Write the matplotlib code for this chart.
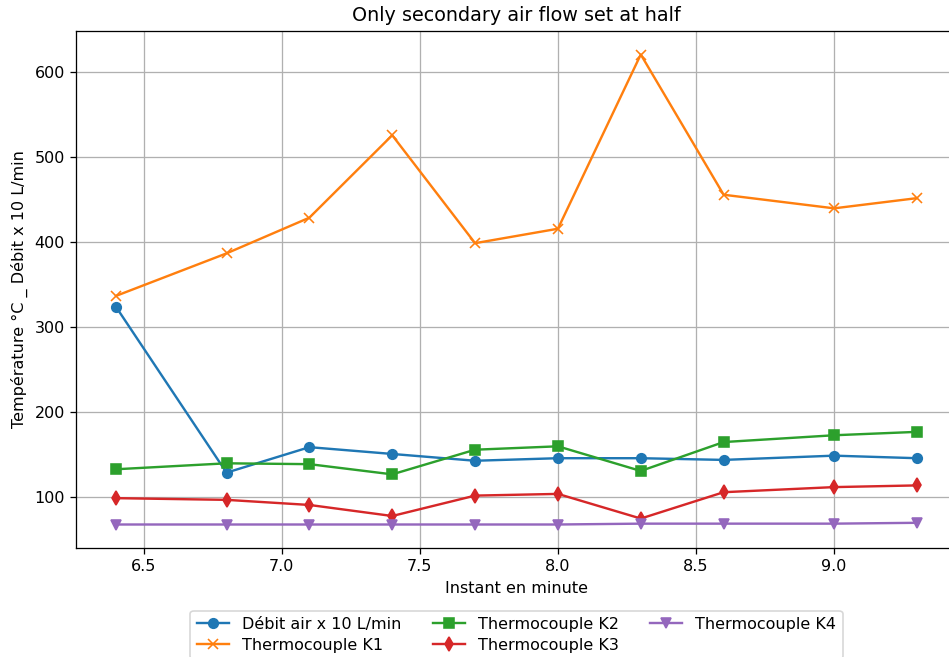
import matplotlib
matplotlib.use("Agg")
import matplotlib.pyplot as plt

# instants (minutes)
temps = [6.4, 6.8, 7.1, 7.4, 7.7, 8.0, 8.3, 8.6, 9.0, 9.3]

debit = [324, 129, 159, 151, 143, 146, 146, 144, 149, 146]
k1 = [337, 387, 429, 526, 399, 416, 621, 456, 440, 452]
k2 = [133, 140, 139, 127, 156, 160, 131, 165, 173, 177]
k3 = [99, 97, 91, 78, 102, 104, 75, 106, 112, 114]
k4 = [68, 68, 68, 68, 68, 68, 69, 69, 69, 70]

dpi = 115
fig = plt.figure(figsize=(949 / dpi, 657 / dpi), dpi=dpi)
# axes run past the right edge, as in the cropped reference
ax = fig.add_axes([76 / 949, 109 / 657, 881 / 949, 517 / 657])

ax.plot(temps, debit, marker='o', label='Débit air x 10 L/min')
ax.plot(temps, k1, marker='x', label='Thermocouple K1')
ax.plot(temps, k2, marker='s', label='Thermocouple K2')
ax.plot(temps, k3, marker='d', label='Thermocouple K3')
ax.plot(temps, k4, marker='v', label='Thermocouple K4')

ax.set_title('Only secondary air flow set at half')
ax.set_xlabel('Instant en minute')
ax.set_ylabel('Température °C _ Débit x 10 L/min')
ax.grid(True)
ax.legend(loc='upper center', bbox_to_anchor=(0.5, -0.112), ncol=3,
          labelspacing=0.35, borderaxespad=0.3)

fig.savefig('out.png', dpi=dpi)
